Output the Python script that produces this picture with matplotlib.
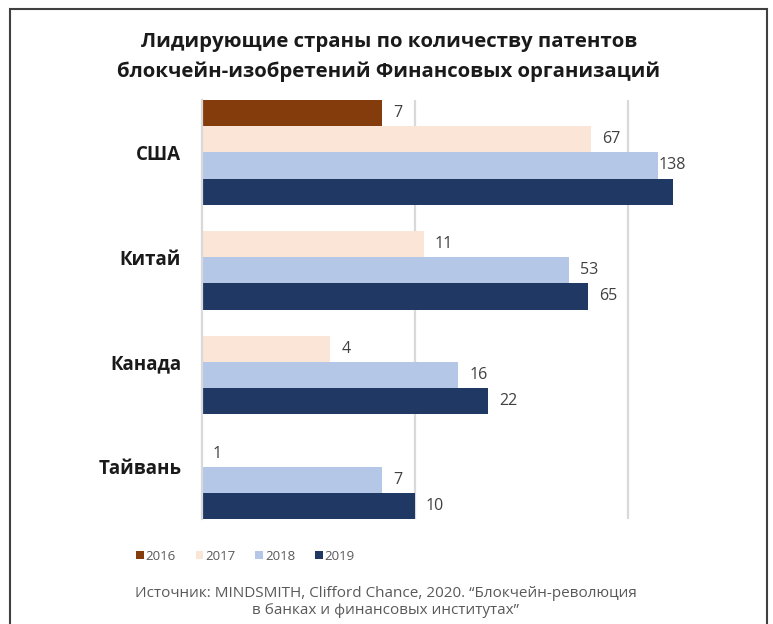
import matplotlib
matplotlib.use('Agg')
import matplotlib.pyplot as plt
from matplotlib.patches import Patch, Rectangle

plt.rcParams['font.family'] = ['Open Sans', 'DejaVu Sans']

# patents per country and year
countries = ['США', 'Китай', 'Канада', 'Тайвань']
years = ['2016', '2017', '2018', '2019']
v2016 = [7, None, None, None]
v2017 = [67, 11, 4, 1]
v2018 = [138, 53, 16, 7]
v2019 = [163, 65, 22, 10]
series = [v2016, v2017, v2018, v2019]
colors = ['#843C0C', '#FBE5D6', '#B4C7E7', '#203864']

# labels that are not shown on the chart (year index, country index)
hidden_labels = [(3, 0)]

W, H = 773, 624
fig = plt.figure(figsize=(W / 100, H / 100), dpi=100)
ax = fig.add_axes([202 / W, 1 - 519 / H, (745 - 202) / W, (519 - 100) / H])
ax.set_xscale('log')
ax.set_xlim(1, 10 ** ((745 - 202) / 213))
ax.set_ylim(3.5, -0.5)

bar_h = 0.25
for k, vals in enumerate(series):
    for i, v in enumerate(vals):
        if v is None:
            continue
        y = i - 0.375 + bar_h * k
        ax.barh(y, v - 1, left=1, height=bar_h, color=colors[k], edgecolor='none', zorder=2)
        if (k, i) in hidden_labels:
            continue
        pad = 1 if v > 100 else 11
        ax.annotate(str(v), (v, y), xytext=(pad, 0), textcoords='offset pixels',
                    ha='left', va='center', fontsize=11.5, color='#404040')

ax.set_yticks(range(len(countries)))
ax.set_yticklabels(countries, fontsize=13.5, fontweight='bold', color='#1a1a1a')
ax.tick_params(axis='y', length=0, pad=15)
ax.set_xticks([])
ax.minorticks_off()
ax.tick_params(axis='x', which='both', length=0, labelbottom=False)
for x in [10, 100]:
    ax.axvline(x, color='#D9D9D9', lw=1.6, zorder=1)
for s in ['top', 'right', 'bottom']:
    ax.spines[s].set_visible(False)
ax.spines['left'].set_color('#D9D9D9')
ax.spines['left'].set_linewidth(1.6)

fig.text(389 / W, 1 - 57 / H, 'Лидирующие страны по количеству патентов\nблокчейн-изобретений Финансовых организаций',
         ha='center', va='center', fontsize=14.7, fontweight='bold', color='#1a1a1a', linespacing=1.65)

handles = [Patch(facecolor=c, edgecolor='none', label=y) for c, y in zip(colors, years)]
fig.legend(handles=handles, loc='center left', bbox_to_anchor=(124 / W, 1 - 556 / H), ncol=4,
           frameon=False, fontsize=9.5, handlelength=0.6, handleheight=0.6, handletextpad=0.15,
           columnspacing=1.48, labelcolor='#595959')

fig.text(386 / W, 1 - 602 / H, 'Источник: MINDSMITH, Clifford Chance, 2020. “Блокчейн-революция\nв банках и финансовых институтах”',
         ha='center', va='center', fontsize=11, color='#595959', linespacing=1.15)

fig.patches.append(Rectangle((10 / W, -0.1), (767 - 10) / W, 0.1 + 1 - 9 / H, transform=fig.transFigure,
                             fill=False, edgecolor='#404040', lw=1.5))

fig.savefig('out.png', dpi=100)
